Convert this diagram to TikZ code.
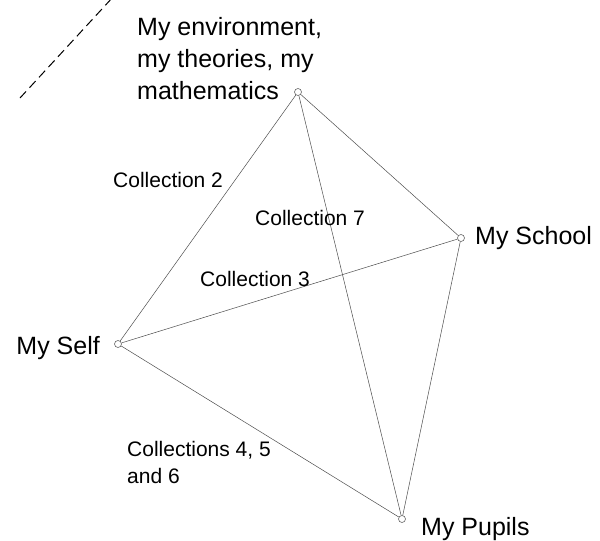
\documentclass[tikz,border=0pt]{standalone}
\usepackage{fontspec}
\setmainfont{Liberation Sans}
\usetikzlibrary{positioning}

\begin{document}
\begin{tikzpicture}[x=1pt, y=-1pt,
		vertex/.style={circle, draw=black!60, fill=white, line width=0.6pt, minimum size=7pt, inner sep=0pt},
		edge/.style={draw=black!70, line width=0.5pt},
		place/.style={inner sep=0pt, align=left, font=\fontsize{25}{32}\selectfont},
		coll/.style={anchor=base west, inner sep=0pt, align=left, font=\fontsize{21}{27}\selectfont}]
		\useasboundingbox (0, 0) rectangle (600, 541);

		% Corners
		\node[vertex] (world) at (298, 92) {};
		\node[vertex] (school) at (461, 238) {};
		\node[vertex] (self) at (118, 344) {};
		\node[vertex] (pupils) at (402, 519) {};

		% Corner labels (base = last line)
		\node[place, anchor=base west] (worldtext) at ([xshift=-161pt, yshift=-7pt]world.center)
			{My environment,\\my theories, my\\mathematics};
		\node[place, anchor=base west] (schooltext) at ([xshift=14pt, yshift=-6pt]school.center)
			{My School};
		\node[place, anchor=base east] (selftext) at ([xshift=-18pt, yshift=-10pt]self.center)
			{My Self};
		\node[place, anchor=base west] (pupilstext) at ([xshift=19pt, yshift=-16pt]pupils.center)
			{My Pupils};

		% Edges
		\draw[edge] (world) -- (self);
		\draw[edge] (world) -- (school);
		\draw[edge] (world) -- (pupils);
		\draw[edge] (self) -- (school);
		\draw[edge] (self) -- (pupils);
		\draw[edge] (school) -- (pupils);

		% Collections
		\node[coll] (coltwo) at (113, 187) {Collection 2};
		\node[coll] (colseven) at (255, 225) {Collection 7};
		\node[coll] (colthree) at (200, 286) {Collection 3};
		\node[coll] (colfour) at (127, 483) {Collections 4, 5\\and 6};

		% Dashed line
		\coordinate (dashlow) at (20, 98);
		\coordinate (dashhigh) at (113, -3);
		\draw[line width=1pt, dash pattern=on 9pt off 5pt] (dashlow) -- (dashhigh);
	\end{tikzpicture}
\end{document}
